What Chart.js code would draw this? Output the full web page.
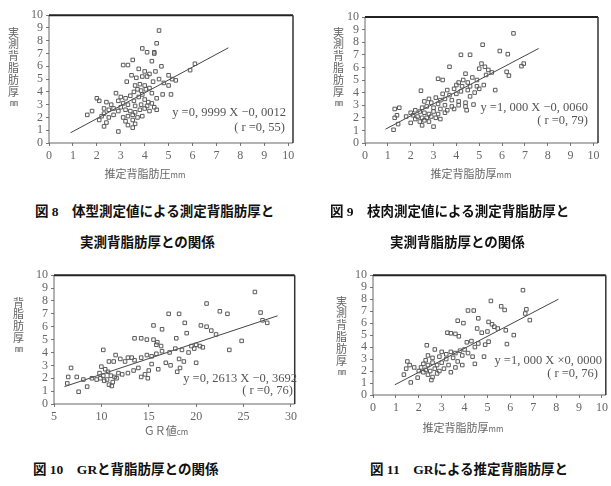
<!DOCTYPE html>
<html><head><meta charset="utf-8">
<script src="https://cdn.jsdelivr.net/npm/chart.js@4"></script>
<style>
body{margin:0;width:611px;height:486px;background:#fff;position:relative;overflow:hidden;font-family:"Noto Sans CJK JP";}
canvas{position:absolute;}
.cap{position:absolute;font-family:"Liberation Serif","Noto Sans CJK JP";font-weight:bold;font-size:13.5px;color:#111;white-space:nowrap;line-height:14px;}
.vt{position:absolute;writing-mode:vertical-rl;font-family:"Noto Sans CJK JP";font-size:11px;color:#666;line-height:1;letter-spacing:0.8px;transform:translateX(-50%);}
.vt span{text-combine-upright:all;font-size:8px;}
.xt{position:absolute;font-family:"Noto Sans CJK JP";font-size:11px;color:#666;white-space:nowrap;transform:translateX(-50%);line-height:12px;}
.xt span{font-size:8px;}
.eq{position:absolute;font-family:"Liberation Serif";font-size:12.5px;color:#555;white-space:nowrap;text-align:right;line-height:12px;}
</style>
</head><body>
<canvas id="c1" width="280" height="165" style="left:20px;top:5px"></canvas>
<canvas id="c2" width="270" height="165" style="left:335px;top:5px"></canvas>
<canvas id="c3" width="275" height="166" style="left:25px;top:265px"></canvas>
<canvas id="c4" width="268" height="157" style="left:343px;top:265px"></canvas>

<div class="vt" style="left:13px;top:27px">実測背脂肪厚<span>mm</span></div>
<div class="vt" style="left:338px;top:27px">実測背脂肪厚<span>mm</span></div>
<div class="vt" style="left:18px;top:297px">背脂肪厚<span>mm</span></div>
<div class="vt" style="left:341px;top:296px">実測背脂肪厚<span>mm</span></div>

<div class="xt" style="left:145px;top:167px">推定背脂肪圧<span>mm</span></div>
<div class="xt" style="left:471px;top:167px">推定背脂肪厚<span>mm</span></div>
<div class="xt" style="left:166px;top:424px">ＧＲ値<span>cm</span></div>
<div class="xt" style="left:463px;top:421px">推定背脂肪厚<span>mm</span></div>

<div class="eq" style="right:325px;top:106px">y =0, 9999 X −0, 0012</div>
<div class="eq" style="right:326px;top:121px">( r =0, 55)</div>
<div class="eq" style="right:23px;top:101px">y =1, 000 X −0, 0060</div>
<div class="eq" style="right:23px;top:114px">( r =0, 79)</div>
<div class="eq" style="right:314px;top:372px">y =0, 2613 X −0, 3692</div>
<div class="eq" style="right:318px;top:384px">( r =0, 76)</div>
<div class="eq" style="right:9px;top:354px">y =1, 000 X ×0, 0000</div>
<div class="eq" style="right:13px;top:367px">( r =0, 76)</div>

<div class="cap" style="left:35px;top:205px">図 8　体型測定値による測定背脂肪厚と</div>
<div class="cap" style="left:80px;top:236px">実測背脂肪厚との関係</div>
<div class="cap" style="left:330px;top:205px">図 9　枝肉測定値による測定背脂肪厚と</div>
<div class="cap" style="left:390px;top:236px">実測背脂肪厚との関係</div>
<div class="cap" style="left:33px;top:463px">図 10　GRと背脂肪厚との関係</div>
<div class="cap" style="left:370px;top:463px">図 11　GRによる推定背脂肪厚と</div>

<script>
// ---- data ----
const yTickValues = [0,1,2,3,4,5,6,7,8,9,10];
const xTicks0to10 = [0,1,2,3,4,5,6,7,8,9,10];
const xTicksGR = [5,10,15,20,25,30];

// 図8: estimated (x) vs measured (y) back-fat
const fig8Points = [[4.6,8.8],[4.5,7.8],[3.9,7.4],[4.1,7.1],[4.4,7.0],[4.4,7.1],
[3.1,6.1],[3.3,6.1],[3.5,6.5],[4.3,6.4],[4.7,6.0],[6.1,6.2],[5.9,5.7],
[3.75,5.8],[4.0,5.6],[4.2,5.4],[4.45,5.6],[3.45,5.3],[3.65,5.1],[3.9,5.2],[4.1,5.2],
[3.25,4.8],[5.0,5.3],[5.15,5.0],[5.3,4.9],[4.8,4.7],[5.0,4.5],[4.35,4.8],[4.6,5.0],
[3.6,4.5],[3.8,4.6],[4.0,4.5],[3.7,4.2],[3.85,4.1],[4.05,4.2],[4.2,4.3],[3.55,4.0],
[5.1,3.8],[4.75,3.8],[4.3,3.9],[4.5,3.5],
[2.8,3.9],[3.0,3.6],[3.2,3.5],[3.4,3.7],[3.55,3.3],[3.75,3.6],[3.9,3.8],[4.0,3.4],[4.15,3.2],[3.3,3.0],[3.6,2.9],[3.85,3.0],[4.1,2.9],[4.3,3.1],[4.4,2.8],
[2.0,3.5],[2.1,3.3],[2.4,3.2],[2.6,3.0],[2.9,3.3],[3.1,3.1],
[2.3,2.7],[2.5,2.6],[2.7,2.7],[2.9,2.5],[3.0,2.8],[3.2,2.6],[3.4,2.5],[3.6,2.4],[3.8,2.6],[4.0,2.7],[4.2,2.5],[4.5,2.6],
[1.6,2.2],[1.8,2.5],[2.2,2.1],[2.3,2.3],[2.5,2.0],[2.7,2.2],[3.1,2.0],[3.3,2.1],[3.5,2.2],[3.7,2.0],[3.9,2.1],
[2.1,1.8],[2.4,1.6],[3.2,1.7],[3.5,1.8],[3.6,1.5],[3.3,1.4],[2.3,1.3],[2.9,0.9],[3.5,1.2]];
const fig8LineX = [0.9, 7.5];
const fig8LineY = [0.8, 7.45];

// 図9
const fig9Points = [[6.5,8.7],[5.15,7.8],[5.9,7.3],[6.25,7.05],[4.2,7.0],[4.6,7.0],[3.7,6.05],[6.95,6.3],[6.85,6.1],
[5.1,6.3],[5.25,6.05],[5.4,5.8],[5.55,5.6],[6.2,5.65],[6.3,5.35],[5.0,5.9],[5.3,5.4],
[3.2,5.1],[3.4,5.0],[4.3,5.0],[4.5,4.8],[4.1,4.8],[4.7,5.2],[4.9,5.0],[4.4,5.5],[5.7,4.2],[5.2,4.6],[4.9,4.5],[4.6,4.5],[4.25,4.5],[4.0,4.6],
[3.6,4.2],[3.9,4.3],[4.2,4.1],[4.5,4.2],[4.8,4.0],[5.0,4.3],[4.6,3.7],[3.4,3.9],[3.7,3.8],[4.0,3.9],
[2.45,4.15],[3.1,3.6],[3.3,3.4],[3.5,3.5],[3.8,3.4],[4.1,3.3],[4.4,3.2],[4.75,3.05],[4.4,2.9],[4.45,2.6],[4.1,3.0],
[2.8,3.5],[2.6,3.3],[2.9,3.2],[3.2,3.1],[3.5,3.0],[3.8,2.9],[3.6,2.6],[3.9,2.7],[3.3,2.7],[3.0,2.8],[2.7,2.9],[2.5,2.8],
[2.2,2.6],[2.4,2.5],[2.6,2.4],[2.8,2.3],[3.0,2.5],[3.2,2.3],[3.5,2.4],[2.1,2.2],[2.3,2.1],[2.5,2.0],[2.7,2.0],[2.9,2.1],[3.1,2.0],[2.2,1.9],[2.4,1.7],[2.6,1.8],[2.0,1.6],[2.5,1.4],[3.0,1.3],[3.3,1.9],[2.8,1.7],
[1.25,1.05],[1.45,1.5],[1.3,2.0],[1.4,2.2],[1.3,2.7],[1.5,2.8],[1.8,2.1],[2.0,2.4]];
const fig9LineX = [0.9, 7.6];
const fig9LineY = [1.1, 7.5];

// 図10: GR value (x) vs back-fat (y)
const fig10Points = [[26.2,8.7],[21.1,7.8],[22.5,7.2],[23.3,7.0],[17.1,7.0],[18.2,7.0],[26.8,7.1],[27.0,6.5],[27.5,6.3],
[18.8,6.3],[19.0,5.5],[15.5,6.1],[16.4,5.8],[20.5,6.1],[21.1,6.0],[21.6,5.7],[22.1,5.4],
[13.5,5.1],[14.2,5.1],[14.8,5.0],[15.5,5.0],[15.8,4.6],[16.3,4.5],[15.9,4.8],[17.9,5.1],[19.5,4.5],[20.0,4.6],[20.4,4.5],[19.8,4.3],[20.7,4.4],[24.8,4.9],[23.5,4.2],
[10.2,4.2],[11.5,3.8],[10.8,3.3],[11.3,3.3],[12.0,3.5],[12.5,3.3],[12.8,3.6],[13.2,3.6],[13.5,3.4],[14.2,3.6],[14.8,3.8],[15.3,3.7],[15.8,3.9],[16.4,4.1],[17.2,4.0],[17.8,4.3],[18.5,4.2],[19.2,4.0],
[16.8,3.2],[17.3,3.0],[18.7,3.3],[20.0,3.2],[18.2,3.5],[18.0,2.5],[18.3,2.8],[16.0,2.7],[15.3,3.1],[15.0,2.6],[14.6,2.3],[14.2,2.1],[14.9,2.0],[13.4,2.6],[12.8,2.4],[13.9,2.8],
[10.0,2.9],[10.4,2.7],[10.7,2.5],[11.0,2.2],[11.4,2.1],[11.8,2.4],[12.2,2.3],[9.8,2.4],[9.9,2.0],[10.3,1.8],[10.6,1.9],[11.2,1.7],[11.6,2.0],[10.2,2.2],[10.8,1.5],[11.1,1.4],[9.5,1.9],[9.0,2.0],
[6.8,2.8],[6.5,2.1],[7.4,2.1],[6.4,1.6],[7.6,0.95],[8.5,1.35],[8.1,1.9]];
const fig10LineX = [6.1, 28.6];
const fig10LineY = [1.35, 6.85];

// 図11
const fig11Points = [[6.55,8.75],[5.15,7.85],[5.6,7.4],[5.75,7.1],[4.15,7.05],[4.4,7.05],[6.7,7.15],[6.65,6.8],[6.85,6.25],
[3.7,6.2],[3.95,6.0],[4.6,6.4],[5.05,6.1],[5.2,5.9],[5.45,5.55],[5.3,5.7],[5.8,5.4],[6.15,5.0],[5.85,4.25],
[3.25,5.2],[3.4,5.15],[3.6,5.1],[3.75,4.9],[4.55,5.55],[4.75,5.2],[5.0,5.3],[5.05,4.45],[4.9,4.2],[4.6,4.3],[4.3,4.5],[4.1,4.4],[4.45,4.0],[4.85,3.2],[4.35,3.2],[4.45,2.6],[4.15,3.5],[4.0,3.8],
[2.35,4.15],[2.7,3.8],[3.0,3.6],[3.2,3.4],[3.4,3.6],[3.6,3.5],[3.8,3.7],[3.9,3.3],[3.5,3.1],[3.2,3.0],[2.9,3.2],[2.6,3.1],[2.4,3.3],[2.3,2.9],
[3.7,2.8],[3.9,2.5],[3.6,2.3],[3.3,2.5],[3.0,2.7],[2.8,2.5],[2.6,2.7],[2.4,2.5],[2.2,2.6],[2.1,2.3],[2.3,2.1],[2.5,2.0],[2.7,2.2],[2.9,2.0],[3.1,2.2],[3.4,1.9],[2.2,1.9],[2.4,1.7],[2.6,1.5],[2.55,1.25],[2.8,1.8],[2.0,2.0],
[1.5,2.8],[1.45,2.2],[1.35,1.7],[1.65,1.05],[1.95,1.45],[1.6,2.5],[1.8,2.3]];
const fig11LineX = [0.95, 8.1];
const fig11LineY = [0.85, 8.0];

// ---- drawing ----
const framePlugin = {
  id: 'frame',
  afterDraw(c) {
    const {ctx, chartArea: a} = c;
    ctx.save();
    ctx.strokeStyle = '#666'; ctx.lineWidth = 1;
    ctx.beginPath(); ctx.moveTo(a.left, a.top); ctx.lineTo(a.left, a.bottom); ctx.lineTo(a.right, a.bottom); ctx.stroke();
    ctx.strokeStyle = '#222'; ctx.lineWidth = 2;
    ctx.beginPath(); ctx.moveTo(a.left, a.top); ctx.lineTo(a.right, a.top); ctx.stroke();
    ctx.lineWidth = 1.5; ctx.strokeStyle = '#333';
    ctx.beginPath(); ctx.moveTo(a.right, a.top); ctx.lineTo(a.right, a.bottom); ctx.stroke();
    ctx.restore();
  }
};

function makeChart(id, pts, lx, ly, xMin, xMax, xTicks, padding, yW, xH) {
  const tickFont = {family: 'Liberation Serif', size: 12};
  new Chart(document.getElementById(id), {
    type: 'scatter',
    data: {datasets: [
      {data: pts.map(p => ({x: p[0], y: p[1]})), pointStyle: 'rect', pointRadius: 2.5,
       borderColor: '#5a5a5a', backgroundColor: 'rgba(255,255,255,0)', borderWidth: 1},
      {type: 'line', data: lx.map((x, i) => ({x: x, y: ly[i]})), borderColor: '#444',
       borderWidth: 1, pointRadius: 0, fill: false}
    ]},
    options: {
      responsive: false, animation: false, events: [],
      layout: {padding: padding},
      plugins: {legend: {display: false}, tooltip: {enabled: false}},
      scales: {
        x: {type: 'linear', min: xMin, max: xMax,
            afterBuildTicks: s => { s.ticks = xTicks.map(v => ({value: v})); },
            afterFit: s => { s.height = xH; },
            grid: {drawOnChartArea: false, tickLength: 3, color: '#777'},
            border: {display: false},
            ticks: {font: tickFont, color: '#666', padding: 3, maxRotation: 0, autoSkip: false}},
        y: {type: 'linear', min: 0, max: 10,
            afterBuildTicks: s => { s.ticks = yTickValues.map(v => ({value: v})); },
            afterFit: s => { s.width = yW; },
            grid: {drawOnChartArea: false, tickLength: 3, color: '#777'},
            border: {display: false},
            ticks: {font: tickFont, color: '#666', padding: 3, autoSkip: false}}
      }
    },
    plugins: [framePlugin]
  });
}

makeChart('c1', fig8Points, fig8LineX, fig8LineY, 0, 10.2, xTicks0to10, {top: 10, right: 7, left: 0, bottom: 0}, 29, 27);
makeChart('c2', fig9Points, fig9LineX, fig9LineY, 0, 10.2, xTicks0to10, {top: 12, right: 7, left: 0, bottom: 0}, 30, 27);
makeChart('c3', fig10Points, fig10LineX, fig10LineY, 5, 30.4, xTicksGR, {top: 10, right: 3, left: 0, bottom: 0}, 29, 27);
makeChart('c4', fig11Points, fig11LineX, fig11LineY, 0, 10.17, xTicks0to10, {top: 10, right: 4, left: 0, bottom: 0}, 30, 27);
</script>
</body></html>
